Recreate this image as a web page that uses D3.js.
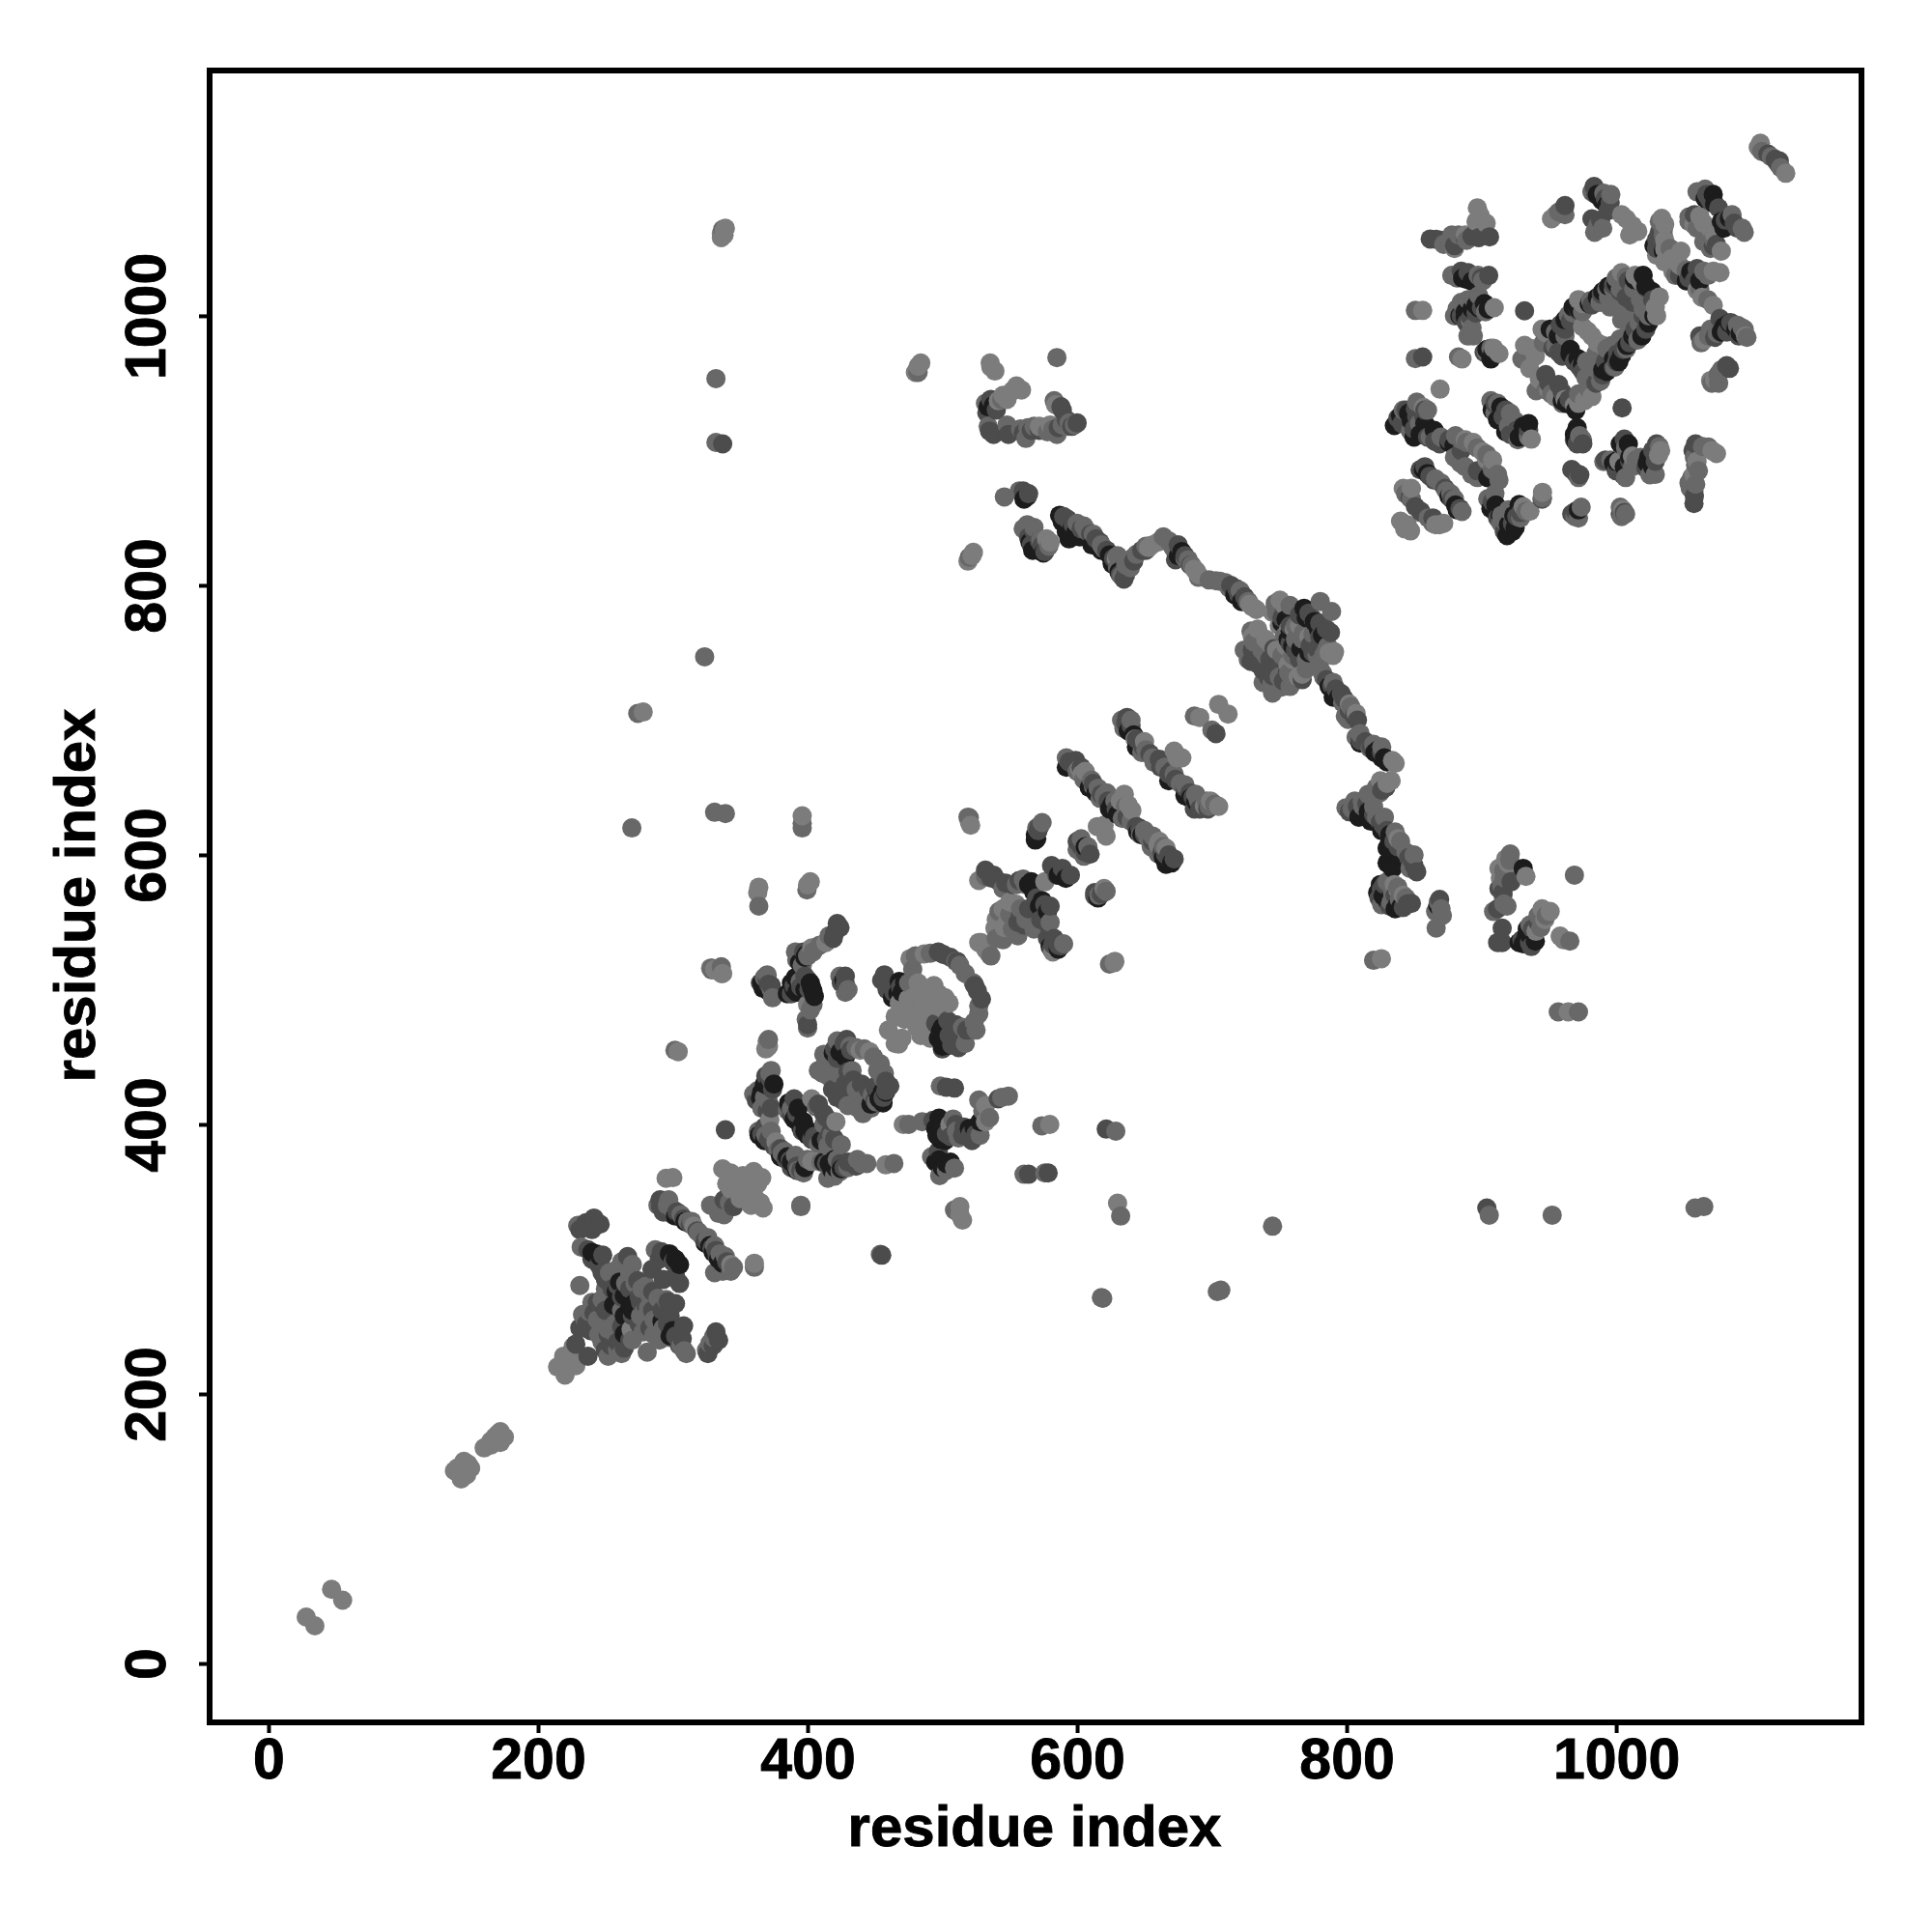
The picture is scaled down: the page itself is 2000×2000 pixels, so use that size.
<!DOCTYPE html>
<html><head><meta charset="utf-8">
<script src="https://cdn.jsdelivr.net/npm/d3@7"></script>
<style>html,body{margin:0;padding:0;background:#fff}svg{display:block}text{font-family:"Liberation Sans",Arial,sans-serif;font-weight:700;fill:#000;stroke:#000;stroke-width:0.9px}</style>
</head><body><div id="chart"></div>
<script>
const tickValues=[0,200,400,600,800,1000];
const axisTitle="residue index";
const xDomain=[-43.7,1182];
const yDomain=[-43.7,1182];
const shades={black:"#1c1c1c",dark:"#4c4c4c",mid:"#686868",light:"#7c7c7c"};
const blackPoints=[[243,304],[256,266],[264,273],[271,267],[264,258],[260.5,283],[297.5,304],[305,296],[264,244.5],[300,247],[268,264],[306,332],[327.5,310],[337,297],[385,376],[391,509],[385,497],[390,500],[404,499],[403,501.5],[398,524],[367,501],[373,497],[427,507],[371,428.5],[366,424],[398,395],[416,371],[421,367.6],[424,453.6],[455.5,424],[453,419],[467,497],[472,505],[498.5,469],[502,462],[497.5,404.6],[498.5,389],[523.6,397.5],[497.5,373.6],[503,371],[569,615],[569,611],[566.5,575.5],[574,566],[591.6,582.6],[615.5,568],[626,637.6],[666,593],[642,689],[688,640],[534,932.5],[538,933.6],[560.6,864],[571.4,826],[565,832],[587,852],[599,839],[594,834.5],[624,822.5],[677.7,825],[755,774.6],[768.4,783],[779,767.5],[766,753],[756.5,760],[790,717],[823.4,678],[828,672],[816,632],[809,628],[832,615],[833,597],[835,593.5],[827,569.6],[838,563.6],[867.6,562.4],[931,590],[933.4,539.7],[931,534],[889,1027],[893,1025.7],[888,1003],[893,1005],[902.3,1009],[908.3,972],[989.6,1085.4],[1055.3,1032.8],[1073,1083],[1084,1072.3],[1084,994.6],[1088.8,990],[963.3,934.8],[965.7,971.9],[971.6,968.3],[968,1006.5],[986,1013.7],[994.3,1022],[1013.5,1026.9],[1026.6,1018],[1024,994.6],[1012.3,985],[1004,970.7],[993,958.7],[835.4,918.6],[846,927.7],[854.5,912],[879.6,903.8],[904.7,879.9],[880.8,859.6],[914.3,932.4],[912,922.9],[931,918],[910.7,859.6],[925,842.8],[919,836.9],[969,912],[998,890.6],[1023,890.6],[1009,905]];
const blackRibbons=[[258,276],[262,262],[270,262],[275,260],[246,302],[292,254],[298,243],[302,300],[240,305],[302,332],[309,328],[324,312],[330,305],[334,300],[365,420],[368,430],[375,430],[364,392],[368,388],[380,376],[392,366],[388,372],[398,368],[393,412],[397,402],[390,404],[400,392],[395,398],[404,394],[386,416],[410,388],[412,372],[420,374],[366,505],[371,499],[399,526],[394,520],[388,505],[392,498],[398,500],[402,505],[405,495],[420,370],[418,366],[425,367],[419,453],[428,450],[452,424],[458,424],[447,415],[456,416],[463,494],[468,506],[470,498],[500,472],[503,468],[497,464],[505,459],[500,458],[500,400],[495,397],[502,388],[495,372],[500,368],[506,372],[496,392],[520,397],[528,402],[564,578],[568,572],[572,562],[566,580],[578,558],[586,585],[570,612],[606,606],[580,532],[586,530],[592,665],[609,650],[614,646],[624,634],[630,630],[645,617],[648,615],[664,598],[670,594],[638,692],[644,680],[668,655],[680,644],[684,642],[690,637],[589,847],[596,842],[602,836],[611,830],[618,826],[626,816],[631,810],[675,822],[717,793],[722,788],[567,826],[575,824],[592,840],[563,866],[752,772],[758,766],[770,776],[776,773],[782,763],[760,755],[772,750],[787,725],[794,717],[810,683],[821,676],[826,672],[830,669],[792,719],[812,630],[818,625],[826,618],[832,610],[830,605],[836,600],[838,595],[845,593],[830,594],[834,590],[825,578],[830,566],[823,572],[836,560],[840,561],[936,540],[934,545],[928,535],[940,536],[951,990],[957,985],[962,997],[972,1005],[980,1009],[990,1018],[1000,1024],[1020,1030],[1022,1022],[1028,1000],[1019,985],[1008,978],[1002,966],[998,968],[990,960],[966,975],[975,964],[960,937],[970,930],[840,926],[848,922],[858,920],[865,915],[850,910],[876,906],[857,886],[860,883],[876,866],[882,856],[908,930],[915,922],[918,914],[928,910],[935,920],[907,857],[928,860],[920,845],[923,840],[924,852],[914,852],[886,1028],[884,1000],[896,1008],[898,1006],[905,1005],[888,999],[904,975],[907,968],[986,1090],[993,1082],[1028,1052],[1035,1048],[1052,1026],[1057,1031],[1062,1026],[1066,1087],[1080,1065],[1078,1070],[1072,1090],[1080,992],[1092,987],[1078,988],[1003,905],[1000,892],[1006,888],[1024,895],[1027,888],[1010,895],[970,907],[971,917],[972,856]];
const darkPoints=[[235.5,327],[241.5,330.5],[237,307],[247.5,290],[259,280.5],[266.5,302],[274,284],[302,267],[296.5,268.5],[291.5,305.5],[284.5,292.5],[293,285],[231,249],[239,247],[241.5,260],[228,237],[237,228],[250,232.5],[259,238.5],[283,249],[308,250.5],[307,241],[332,246],[276,268],[290.5,344],[293,335],[300,333],[332,306.5],[338,344],[345,339],[422,549],[420,542],[397,528],[400.5,507],[400,474],[371,504],[428,504],[372,434],[373,412],[366,393],[371,389],[387,373.5],[392,369],[390,419],[403,389],[420,389],[414,389],[414,405],[424.5,371],[430,372],[434,372],[429,463],[461,428.5],[434,433],[430,439],[418.5,426],[426,418],[457,511],[461.5,504],[497,528],[506,524],[526,499],[510,474],[512,457],[503,427.5],[509,427],[503,393],[521,393],[541.5,419],[572,621],[600,610],[609.6,600.5],[581,592],[532,588.6],[536,583],[547,579],[580,562],[560.6,548],[578.5,548],[582,533.6],[588,532.5],[613,569.5],[594,669],[599,670],[646.6,619.6],[669.4,595.8],[637,702],[646.6,684],[661,671],[670.5,662.7],[683.7,646],[687,634],[703,690],[535,914.5],[546.7,915],[560,913],[588,932.5],[600,920.5],[564,868],[564,835.7],[574,829.7],[593,849],[614,834.5],[634.7,804.6],[648,826],[673,819],[718.4,797.4],[724.3,791.5],[754,780.6],[772,779.4],[785,767.5],[778,753],[773,755.5],[746,753],[730,752],[729,743.5],[735,741],[742,731.6],[753,729],[767,730],[789,725.6],[796,719.6],[805.5,703],[814,684],[827,622],[848.5,596],[852,587.5],[825.8,574.4],[845,563.6],[912,560],[915.4,545.7],[915.4,535],[912,535],[935.7,535],[455,303],[564,363],[578.5,364],[621.6,396.5],[862,1057],[866.5,1056.7],[893,1059],[906,1058.6],[905.4,1030],[889,994.6],[932,1003.7],[856.4,969.5],[962,1081.8],[983.6,1096],[995.5,1084],[988.4,1071],[1030,1056.7],[1060,1029],[1068.4,1087.8],[1087.6,1068.7],[1074.4,1053],[1082,963],[1112.6,1120],[1120,1113],[947.7,956.4],[957.3,949],[957.3,973],[975.2,958.7],[958.5,993.4],[1000.3,966],[1007.5,1013.7],[1012.3,1010],[851,931],[858,930],[865.3,907],[854.5,885.8],[861.7,881],[851,858.4],[921.5,912],[926.2,851],[975.2,905],[969.7,883.5],[969.7,854.8],[1005,882],[1006,908.5],[1030,904.9],[1058.9,905],[1057.7,860.7],[1004.4,931.7],[904,338],[337,905],[339,396]];
const darkRibbons=[[240,300],[245,296],[250,285],[255,278],[262,272],[268,278],[275,272],[280,266],[285,262],[292,262],[298,258],[244,268],[250,262],[236,252],[244,250],[252,244],[262,250],[270,258],[275,252],[268,240],[254,236],[264,234],[296,252],[302,243],[305,236],[334,240],[330,236],[326,230],[285,276],[290,300],[300,298],[302,288],[305,282],[240,322],[246,326],[231,322],[248,303],[246,298],[291,339],[295,337],[303,335],[308,330],[313,326],[318,321],[324,314],[329,308],[333,302],[340,298],[369,436],[374,426],[362,418],[370,410],[368,398],[375,384],[380,382],[384,374],[388,368],[395,366],[386,414],[388,407],[392,408],[396,395],[405,391],[409,392],[417,394],[412,408],[418,402],[408,415],[365,505],[370,508],[373,503],[390,503],[388,497],[395,502],[398,510],[401,500],[428,510],[425,505],[419,538],[424,546],[414,371],[427,368],[436,369],[427,460],[432,455],[422,449],[420,456],[450,428],[458,432],[458,425],[452,425],[445,426],[440,430],[428,430],[422,420],[450,418],[456,420],[455,507],[459,500],[464,498],[469,502],[501,526],[511,521],[524,503],[529,493],[518,470],[505,466],[507,459],[495,475],[500,456],[504,477],[510,400],[493,403],[497,380],[506,391],[515,392],[522,388],[516,398],[525,393],[538,585],[541,581],[552,578],[557,581],[570,568],[576,563],[583,538],[578,538],[586,533],[556,550],[558,556],[564,560],[573,552],[581,530],[595,585],[589,590],[585,585],[571,618],[603,606],[606,602],[613,572],[618,571],[596,668],[603,665],[612,653],[618,645],[623,640],[629,634],[637,628],[644,621],[650,615],[656,610],[663,602],[668,600],[672,597],[666,600],[636,698],[640,696],[644,686],[649,680],[654,675],[662,665],[668,660],[673,656],[680,650],[686,643],[691,634],[697,634],[533,928],[536,938],[540,930],[566,915],[572,915],[586,917],[592,923],[596,918],[589,930],[538,912],[549,912],[590,851],[597,845],[603,842],[610,838],[617,832],[622,826],[627,820],[632,808],[636,808],[642,818],[651,826],[572,833],[568,840],[566,830],[576,825],[560,870],[675,830],[680,822],[684,815],[714,800],[720,793],[726,788],[716,798],[752,776],[758,770],[765,778],[775,775],[780,772],[788,765],[780,762],[762,752],[758,757],[775,750],[738,737],[745,733],[737,750],[743,745],[749,740],[756,735],[765,745],[785,730],[792,723],[798,716],[802,707],[808,700],[810,685],[818,680],[826,676],[802,632],[808,636],[815,638],[820,630],[825,624],[830,618],[835,610],[838,606],[846,598],[850,592],[829,650],[826,648],[828,578],[832,562],[842,561],[848,564],[836,570],[824,568],[869,567],[913,575],[922,580],[916,572],[930,537],[938,545],[942,550],[937,532],[953,976],[960,970],[969,966],[973,962],[962,990],[966,996],[972,1004],[982,1008],[989,1016],[998,1023],[1003,1018],[1009,1026],[1022,1021],[1027,1012],[1020,1000],[1022,990],[1014,990],[1010,980],[1005,975],[1001,972],[998,962],[992,966],[990,956],[985,950],[965,938],[960,943],[950,950],[838,924],[841,920],[844,930],[852,925],[850,916],[857,926],[860,910],[869,905],[876,908],[858,888],[865,878],[873,872],[878,864],[884,857],[847,865],[855,855],[864,850],[910,935],[918,930],[916,925],[926,915],[935,915],[929,854],[923,846],[917,840],[912,850],[908,862],[885,900],[897,885],[870,1056],[888,1058],[898,1058],[880,1052],[885,1033],[900,1028],[890,1032],[885,1000],[896,1002],[892,999],[900,1006],[902,973],[985,1090],[992,1087],[994,1078],[982,1072],[1030,1050],[1032,1062],[1047,1030],[1054,1028],[1060,1035],[1058,1026],[1067,1090],[1070,1085],[1076,1080],[1081,1071],[1090,1065],[1058,1075],[1072,1052],[1077,998],[1082,988],[1085,995],[1091,985],[1073,984],[1062,985],[1084,961],[1118,1116],[1121,1115],[992,893],[1000,885],[1010,892],[1022,887],[1027,900],[1029,892],[1057,900],[1058,866],[973,882],[967,886],[971,905],[969,908],[967,853],[1003,853],[1006,854],[945,864]];
const midPoints=[[229.5,325],[232,309],[231,280.5],[253,290],[270,296],[277,278],[283,273],[289,271],[295,270],[287,307],[233,259],[238,261],[247.5,270],[248.5,256.5],[257,252],[256,246],[247.5,238.5],[259,232.5],[281,259],[286,255],[289,256.5],[293,249],[308.5,232],[281,231],[325,232.5],[327.5,237.5],[330,242],[278.5,261],[289,340],[297,344],[311,328],[321.5,317.5],[335,304],[331,290],[343,291],[337,291],[360.5,294],[332,338],[338,333],[395,339],[392,522],[394.5,506],[402,485],[400,471.5],[368,509],[373,500],[329,516],[336,517],[428,498],[371,463],[372,438],[360,422.5],[371,417],[363.5,395],[381,378.5],[397,364],[385,410.6],[408,385.5],[406.5,413],[410,372],[440,371],[420,361.6],[464,371],[417,452.5],[431.5,458],[454,445],[457,438],[443.5,421],[417,442],[411,438],[437.5,412],[443.5,416.6],[439,424],[451,416.6],[513,518],[527,488],[523.6,476],[498.5,428.5],[475,400],[485,402],[510.5,395],[527,418],[549,421],[509,367.6],[509,336.5],[545,538.5],[520,627.6],[605,599],[562,578],[564,555],[546,543],[545,537],[621.5,573],[624,519],[610.7,655.5],[615.5,649.5],[620,643.6],[633.5,627],[652.6,612.5],[665.7,600.6],[634.7,694],[651,678],[657,668.7],[676.5,653],[702,637.6],[687,703],[700,692.6],[585,969],[563.5,917],[582,915.7],[589,919],[594,920.5],[546,865.6],[557,870],[563,845],[607,840.5],[620,827],[630,813],[639.5,813],[640.7,820],[668,833],[671.7,827.3],[682.5,819],[703,803.4],[710,802],[747,786.6],[780.4,788],[788.8,780.6],[754,762.7],[767,760.3],[783,748.3],[729,766],[752,748],[724,752],[752,724.5],[744.5,727],[783,732],[803,710],[801,700.5],[807,687.4],[817.4,679],[824.6,646],[811.5,640],[804,634],[822.2,628],[840,610],[799.5,635],[833,565],[839,567],[870,560],[866.4,545.7],[820,521.8],[921.4,600.7],[916.6,588.7],[916.6,563.6],[969,585],[945,551.7],[965.6,536],[957,483.5],[972,483.5],[619,271],[632.3,332],[560.6,363],[576,364],[628.7,395],[573.8,399],[745,324.5],[905.8,332.7],[952.5,332.7],[1058.5,338],[1065,339],[704,276],[706.6,277],[618,271.5],[454,303.5],[395,340],[301.6,455],[269.6,620],[274,705],[323.6,747],[331,631.6],[339,630.7],[332,953.4],[332,906],[363.8,562],[396,623.4],[399.5,574],[329,514.6],[482,958],[520,820.8],[519,628],[877,1054],[883,1060],[882,1028],[897.5,1030],[851,1004],[882,1005.3],[894,1012.5],[893,991],[851,968.3],[883,969.5],[903.5,973],[957.3,1077],[990.8,1091],[986,1066],[1065,1033],[1054,1073.4],[1064.8,1092.6],[1093.5,1065],[1068.4,1054.4],[1068.4,985],[1093.5,991],[1097,984],[1075.6,956.4],[930,968],[940.6,944.4],[955,977.9],[977.6,954],[964.5,1000.5],[981,1011.3],[998,1019.7],[1007.5,1029],[1017,994.6],[1007.5,975.5],[988.4,951.6],[993,975.5],[995.5,1006.5],[1004,997],[994.3,1013.7],[847.4,914.5],[880.8,911],[884.4,890.6],[892.8,882.3],[912,882.3],[870,876],[877.2,868],[885.6,854.8],[843.8,868],[860.5,850],[907,937],[921.5,927.7],[904.7,864.3],[914.3,846.4],[945.3,865],[972.8,911],[969.3,851],[1004,851],[990.8,891.8],[1008.7,899],[1014.7,893],[1029,882.3],[1068.4,902.6],[1058.9,889.4],[1054,876],[1057.7,870]];
const midRibbons=[[258,292],[262,298],[268,290],[272,282],[280,280],[265,282],[250,278],[240,268],[235,255],[244,255],[252,248],[262,262],[276,258],[282,264],[270,240],[290,240],[298,242],[306,236],[310,230],[286,244],[278,246],[245,244],[252,228],[262,230],[296,340],[300,337],[306,333],[314,328],[319,320],[326,316],[331,310],[339,302],[345,294],[328,340],[334,334],[342,342],[373,440],[363,425],[368,420],[366,412],[369,392],[373,395],[378,381],[383,380],[391,377],[393,366],[400,374],[388,412],[412,400],[418,392],[415,384],[425,385],[422,374],[430,368],[437,374],[444,371],[415,360],[424,365],[370,511],[374,494],[396,518],[400,525],[391,528],[404,528],[409,533],[416,540],[424,510],[430,500],[399,478],[404,489],[422,462],[436,457],[442,456],[449,450],[452,440],[456,434],[448,422],[433,440],[436,426],[413,445],[408,440],[415,436],[422,438],[430,414],[436,416],[441,408],[447,412],[412,452],[440,413],[480,525],[491,527],[510,521],[517,512],[523,505],[527,482],[525,470],[515,472],[517,460],[478,515],[475,505],[508,404],[512,390],[530,410],[535,405],[544,420],[503,366],[498,362],[528,392],[492,376],[532,584],[545,575],[555,578],[560,582],[542,558],[550,556],[558,560],[562,552],[552,545],[556,540],[570,620],[616,570],[574,624],[603,612],[600,604],[608,606],[580,550],[590,534],[536,525],[540,538],[568,545],[592,672],[600,662],[605,656],[612,651],[617,642],[622,646],[628,640],[636,636],[640,625],[647,615],[650,618],[655,606],[660,601],[656,614],[664,606],[633,700],[640,700],[648,676],[656,672],[665,665],[672,660],[680,652],[688,645],[698,636],[690,640],[696,640],[532,935],[544,938],[568,918],[578,914],[585,912],[592,918],[598,919],[583,937],[562,909],[558,916],[534,918],[548,919],[600,846],[605,844],[612,838],[618,830],[630,822],[633,807],[636,815],[644,823],[651,829],[664,836],[670,830],[674,825],[680,820],[685,815],[690,806],[698,804],[706,803],[713,798],[721,796],[727,788],[560,842],[568,843],[573,834],[579,829],[748,780],[758,785],[762,770],[768,765],[775,764],[762,760],[770,745],[778,748],[785,752],[760,748],[740,748],[731,758],[737,752],[727,745],[750,732],[758,725],[770,738],[757,735],[760,730],[745,720],[738,728],[786,755],[780,743],[782,735],[790,728],[797,713],[805,706],[799,703],[810,690],[820,682],[826,680],[806,640],[816,645],[822,650],[812,636],[820,636],[828,628],[836,617],[844,602],[850,600],[847,590],[830,580],[838,576],[844,568],[834,572],[826,563],[868,565],[871,555],[866,558],[921,596],[915,577],[920,590],[916,570],[909,558],[919,562],[917,583],[942,555],[936,548],[948,555],[944,546],[948,945],[952,942],[946,980],[955,988],[962,985],[968,1002],[975,1003],[988,1010],[993,1020],[1004,1025],[1000,1028],[1013,1020],[1018,1012],[1012,1003],[1020,1005],[1024,1000],[1012,995],[1016,982],[1003,983],[997,978],[985,972],[999,962],[986,960],[980,945],[972,942],[960,935],[978,966],[1003,1020],[1010,992],[1005,1005],[842,930],[854,920],[862,910],[870,910],[885,908],[889,906],[897,902],[904,897],[880,895],[888,888],[897,880],[908,886],[913,878],[866,879],[874,870],[880,864],[848,864],[855,854],[864,846],[910,928],[912,935],[925,922],[920,918],[927,908],[935,912],[910,868],[915,852],[920,856],[933,855],[917,848],[929,850],[860,930],[852,936],[872,1053],[878,1060],[889,1056],[878,1030],[901,1026],[880,1000],[885,1010],[890,1012],[898,1015],[890,985],[894,985],[907,976],[903,1003],[962,1075],[982,1092],[987,1068],[984,1062],[990,1065],[996,1090],[1032,1070],[1035,1060],[1035,1064],[1040,1050],[1044,1030],[1052,1034],[1068,1030],[1062,1020],[1068,1012],[1060,1092],[1066,1094],[1086,1075],[1095,1062],[1054,1070],[1060,1065],[1070,1050],[1065,1055],[1072,1057],[1063,980],[1070,990],[1095,990],[1090,993],[1075,987],[1078,960],[1071,950],[1076,950],[1108,1122],[1115,1118],[1122,1110],[996,893],[1007,902],[1012,888],[1018,895],[1007,880],[1032,903],[1025,882],[1058,895],[1056,880],[1061,885],[1064,903],[1059,875],[1055,872],[972,880],[975,908],[974,858],[972,850],[1007,853],[1003,858],[337,1064],[396,620]];
const lightPoints=[[28,34.4],[34.4,28],[46.8,55],[55,47],[140,145],[143,137],[147,140],[150,145],[145,150],[148,148],[138,143],[160,160],[165,165],[170,170],[172,172],[175,168],[165,162],[172,164],[168,168],[214.5,220],[220,214],[219,228],[226,235],[228,221],[223.6,227],[269,248],[315.5,324.5],[343,296],[360.5,297],[295,360],[300,360.5],[337,367],[343,364],[348,359],[360,365],[366,360.5],[355,357],[348,352],[356,347],[362,344],[367,338],[360,352],[352.5,350],[413.6,535],[403,531],[331,515],[337,512],[371,458],[372,403.5],[376.5,387],[403,372.5],[403,419],[421,402],[458,370],[439,455],[446,454],[476,523],[486.5,526.5],[493.7,503],[502,494],[486.5,498],[470,486],[477,486],[485,488],[480.5,476],[491,483.5],[486.5,469],[474.6,493],[460,470],[467.5,459.6],[470,464],[471,400],[505.6,400],[532,402],[532,414],[513,333],[513,339],[527,535],[534,528],[546,546],[520,624.5],[615,621],[621.5,614],[527,581],[545,560],[554.6,563.5],[539,545.6],[528.6,535],[534,527.7],[582,528],[627.5,520],[603.6,660],[632,640],[640.6,633],[660,607.7],[672,677],[677.7,672],[694.4,636.4],[691,702],[705,711.7],[712,704.5],[535.5,965],[539,959],[541.5,937],[545,941],[552,944.4],[558.7,945],[576,917],[584,934],[577.3,834.5],[629,820],[655,829.7],[688.5,810.6],[730,784],[750.5,789],[761,767.5],[791,750.7],[734,767.5],[740,760],[756.5,741],[767,734],[834,670],[830,653],[835.3,578],[825.8,523],[920,593.5],[914,582.7],[933,584],[945,560],[940.5,543.3],[958.4,539.7],[964.4,483.5],[630,341.5],[515,329],[579.7,400],[628,521],[338,1063],[338,1060],[370,461.6],[400,489],[363.8,576],[396,629],[400,577.7],[336,512],[482,962.5],[523,824.5],[899,1074.7],[903.5,1068.7],[856.4,1004],[909.5,1006],[913,972],[885.6,968],[869.3,945.6],[955,1074.7],[1007.5,1072],[1016,1062.7],[1033.8,1072.3],[1036,1049.5],[1041,1042.4],[1036,1040],[1047,1037.6],[1072,1033],[1063.6,1013.7],[1072,1007.7],[1057.7,1067.5],[1064.8,1068.7],[1069.6,1065],[1073,952.8],[1105.4,1125],[1125.8,1105.8],[938,975.5],[935.8,961],[943,952.8],[955,939.6],[969,933.6],[976.4,937],[947.7,987.4],[975.2,1009],[1018.2,1025.7],[1029,1006.5],[978.8,988.6],[986,980],[894,906],[901,899],[908.3,893],[869,845],[840,847.6],[847.4,840.4],[931,858.4],[937,908.5],[945.3,869],[1005,856],[1031.4,896.6],[1074.4,897.8],[1057.7,882.3]];
const lightRibbons=[[340,356],[345,361],[352,362],[357,360],[363,356],[350,345],[358,340],[365,342],[355,352],[343,352],[482,505],[490,500],[497,497],[478,482],[473,482],[482,480],[488,476],[495,488],[500,486],[468,490],[472,478],[490,470],[484,466],[478,494],[486,492],[494,478],[505,490],[465,480],[481,472],[491,464],[465,460],[540,552],[547,548],[550,565],[532,530],[620,575],[620,622],[576,580],[602,664],[606,662],[638,637],[635,645],[661,610],[666,605],[643,686],[650,684],[699,640],[674,672],[705,636],[580,919],[572,918],[548,938],[555,948],[536,962],[687,812],[690,808],[660,832],[653,828],[733,782],[728,786],[580,832],[754,785],[745,780],[750,770],[757,768],[772,762],[765,770],[755,755],[730,762],[743,757],[760,745],[748,752],[764,732],[790,748],[787,750],[802,712],[807,705],[836,668],[825,655],[838,612],[833,655],[838,574],[842,570],[918,597],[913,590],[951,558],[947,552],[961,537],[940,970],[932,978],[950,945],[962,938],[972,935],[982,940],[975,992],[982,985],[990,978],[945,990],[1032,1014],[1030,1000],[1014,1030],[1004,1032],[972,1012],[857,932],[888,908],[904,893],[842,872],[848,872],[866,845],[872,846],[935,910],[936,855],[845,845],[843,842],[897,1080],[896,1070],[885,1031],[880,1050],[888,1060],[892,996],[909,976],[952,1072],[1012,1067],[1004,1075],[1010,1060],[1036,1056],[1030,1045],[1042,1033],[1048,1048],[1045,1040],[1036,1068],[1077,1032],[1060,1019],[1062,1074],[1073,1060],[1078,1048],[1065,982],[1096,985],[1070,952],[1107,1128],[1002,892],[1012,896],[1033,900],[1060,892],[1071,900],[336,1061],[339,1065],[336,1058],[480,958],[484,965],[278,706],[519,818],[522,822],[521,622],[363,572],[402,580],[328,516],[369,456],[304,454]];

const margin={left:217,right:1927,top:73,bottom:1783};
const svg=d3.select("#chart").append("svg").attr("width",2000).attr("height",2000);
const x=d3.scaleLinear().domain(xDomain).range([margin.left,margin.right]);
const y=d3.scaleLinear().domain(yDomain).range([margin.bottom,margin.top]);

const tiers=[[blackPoints.concat(blackRibbons),shades.black],[darkPoints.concat(darkRibbons),shades.dark],[midRibbons.concat(midPoints),shades.mid],[lightRibbons.concat(lightPoints),shades.light]];
const marks=tiers.flatMap(([pts,col])=>pts.map(p=>({i:p[0],j:p[1],col})));
marks.sort((a,b)=>d3.ascending(a.i,b.i)||d3.ascending(a.j,b.j));
svg.append("g").selectAll("circle").data(marks).join("circle")
  .attr("cx",d=>x(d.i)).attr("cy",d=>y(d.j)).attr("r",10).attr("fill",d=>d.col);

svg.append("rect").attr("x",margin.left).attr("y",margin.top)
  .attr("width",margin.right-margin.left).attr("height",margin.bottom-margin.top)
  .attr("fill","none").attr("stroke","#000").attr("stroke-width",6);

const fmt=d3.format("d");
const gx=svg.append("g").attr("transform",`translate(0,${margin.bottom})`)
  .call(d3.axisBottom(x).tickValues(tickValues).tickFormat(fmt).tickSize(11).tickSizeOuter(0));
const gy=svg.append("g").attr("transform",`translate(${margin.left},0)`)
  .call(d3.axisLeft(y).tickValues(tickValues).tickFormat(fmt).tickSize(11).tickSizeOuter(0));
[gx,gy].forEach(g=>{g.select(".domain").remove();g.selectAll("line").attr("stroke","#000").attr("stroke-width",4);});
gx.selectAll("text").attr("y",0).attr("dy",0).attr("transform","translate(0,58)").style("font-size","59px").attr("text-anchor","middle");
gy.selectAll("text").attr("x",0).attr("dy",0).attr("transform","translate(-46,0) rotate(-90)").style("font-size","59px").attr("text-anchor","middle");

svg.append("text").attr("x",1071).attr("y",1911).attr("text-anchor","middle").style("font-size","60px").text(axisTitle);
svg.append("text").attr("transform","translate(98,927) rotate(-90)").attr("text-anchor","middle").style("font-size","60px").text(axisTitle);
</script></body></html>
